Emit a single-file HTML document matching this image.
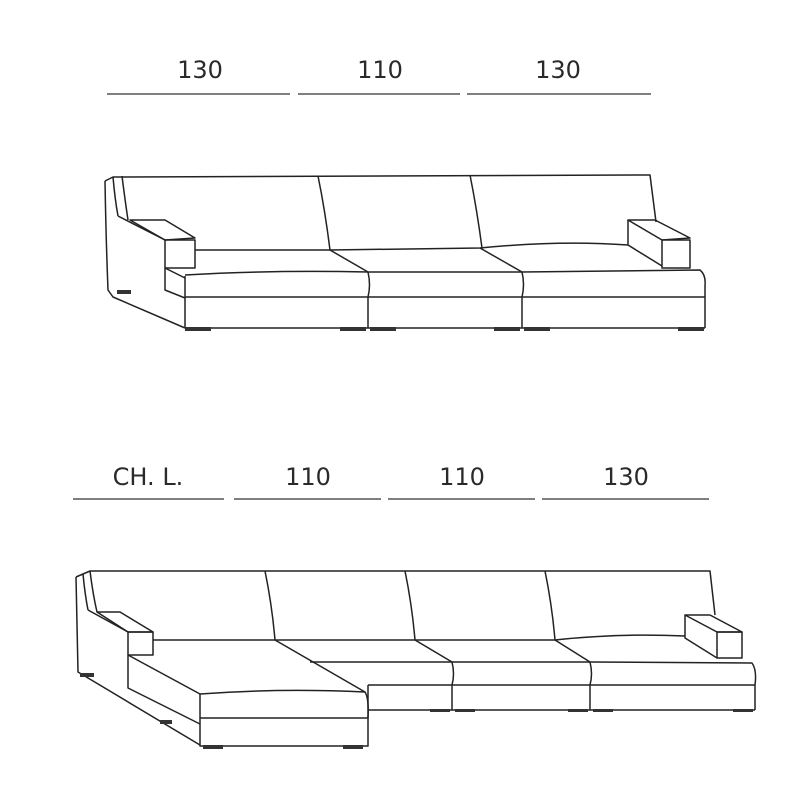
<!DOCTYPE html>
<html><head><style>
html,body{margin:0;padding:0;background:#fff;}
svg{display:block}
text{font-family:"DejaVu Sans","Liberation Sans",sans-serif;font-size:24px;fill:#2a2a2a;text-anchor:middle;font-weight:normal}
</style></head><body>
<svg width="800" height="800" viewBox="0 0 800 800" xmlns="http://www.w3.org/2000/svg">
<g stroke="#333" stroke-width="1.2">
<line x1="107" y1="94" x2="290" y2="94"/><line x1="298" y1="94" x2="460" y2="94"/><line x1="467" y1="94" x2="651" y2="94"/>
<line x1="73" y1="499" x2="224" y2="499"/><line x1="234" y1="499" x2="381" y2="499"/><line x1="388" y1="499" x2="535" y2="499"/><line x1="542" y1="499" x2="709" y2="499"/>
</g>
<text x="200" y="78">130</text><text x="380" y="78">110</text><text x="558" y="78">130</text>
<text x="148" y="485">CH. L.</text><text x="308" y="485">110</text><text x="462" y="485">110</text><text x="626" y="485">130</text>

<g fill="none" stroke="#222" stroke-width="1.5" stroke-linejoin="round">
<!-- TOP SOFA -->
<path d="M105 181 L113 177 L650 175 L656 222"/>
<path d="M105 181 Q106 240 108 290 L113 297 L185 328"/>
<path d="M113 177 Q115 200 118 216"/>
<path d="M122 176 Q125 200 128 220"/>
<path d="M118 216 L165 240"/>
<path d="M130 220 L165 220 L195 238 L165 240 Z"/>
<path d="M165 240 L195 240 L195 268 L165 268 Z"/>
<path d="M318 176 Q325 210 330 250"/>
<path d="M470 175 Q477 210 482 248"/>
<path d="M195 250 L330 250 L480 248 Q560 240 628 245"/>
<path d="M628 220 L655 220 L690 238 L662 240 Z"/>
<path d="M628 220 L628 245 L662 266"/>
<path d="M662 240 L690 240 L690 268 L662 268 Z"/>
<path d="M165 268 L185 278 M185 275 Q270 270 368 272 L522 272 L700 270 Q706 275 705 285"/>
<path d="M330 250 L368 272 M480 248 L522 272"/>
<path d="M165 268 L165 290 L185 298"/>
<path d="M185 297 L705 297"/>
<path d="M185 328 L705 328"/>
<path d="M185 276 L185 328 M368 272 Q371 285 368 297 L368 328 M522 272 Q525 285 522 297 L522 328 M705 285 L705 328"/>
</g>
<g fill="#333">
<rect x="117" y="290" width="14" height="4"/>
<rect x="185" y="327" width="26" height="4"/><rect x="340" y="327" width="26" height="4"/><rect x="370" y="327" width="26" height="4"/>
<rect x="494" y="327" width="26" height="4"/><rect x="524" y="327" width="26" height="4"/><rect x="678" y="327" width="26" height="4"/>
</g>

<g fill="none" stroke="#222" stroke-width="1.5" stroke-linejoin="round">
<!-- BOTTOM SOFA -->
<path d="M76 577 L90 571 L710 571 L715 615"/>
<path d="M76 577 Q77 630 78 672 L200 745"/>
<path d="M83 574 Q85 595 88 610"/>
<path d="M90 571 Q93 595 97 612"/>
<path d="M88 610 L128 632"/>
<path d="M97 612 L120 612 L153 632 L128 632 Z"/>
<path d="M128 632 L153 632 L153 655 L128 655 Z"/>
<path d="M265 571 Q272 605 275 640"/>
<path d="M405 571 Q412 605 415 640"/>
<path d="M545 571 Q552 605 555 640"/>
<path d="M153 640 L275 640 L415 640 L555 640 Q620 633 685 636"/>
<path d="M685 615 L710 615 L742 632 L717 632 Z"/>
<path d="M685 615 L685 638 L717 658"/>
<path d="M717 632 L742 632 L742 658 L717 658 Z"/>
<path d="M275 640 L365 692"/>
<path d="M128 655 L200 694 M200 694 Q280 688 365 692 Q369 698 368 718"/>
<path d="M128 655 L128 688 L200 724"/>
<path d="M200 694 L200 746 L368 746 L368 718 L200 718"/>
<path d="M310 662 L452 662 L590 662 L752 663 Q757 670 755 685"/>
<path d="M415 640 L452 662 M555 640 L590 662"/>
<path d="M368 685 L755 685"/>
<path d="M368 710 L755 710"/>
<path d="M368 718 L368 685 M452 662 Q455 674 452 685 L452 710 M590 662 Q593 674 590 685 L590 710 M755 685 L755 710"/>
</g>
<g fill="#333">
<rect x="80" y="673" width="14" height="4"/><rect x="160" y="720" width="12" height="4"/>
<rect x="203" y="745" width="20" height="4"/><rect x="343" y="745" width="20" height="4"/>
<rect x="430" y="709" width="20" height="3"/><rect x="455" y="709" width="20" height="3"/>
<rect x="568" y="709" width="20" height="3"/><rect x="593" y="709" width="20" height="3"/>
<rect x="733" y="709" width="20" height="3"/>
</g>
</svg>
</body></html>
